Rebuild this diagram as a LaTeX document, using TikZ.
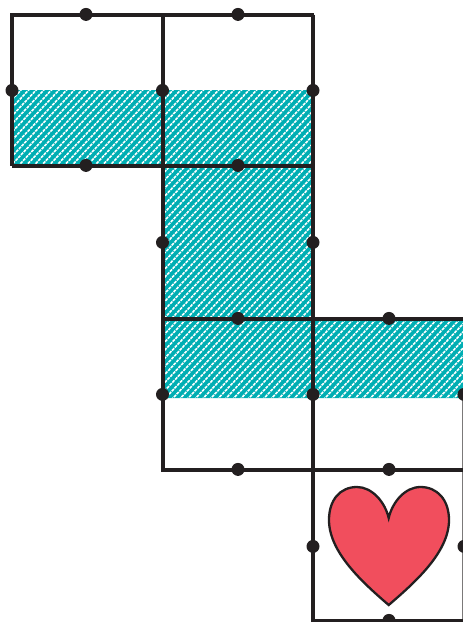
\documentclass[tikz,border=0pt]{standalone}
\definecolor{hatchteal}{RGB}{0,174,179}
\definecolor{inkblack}{RGB}{35,31,32}
\definecolor{heartred}{RGB}{241,78,93}
\tikzset{
  gridline/.style={draw=inkblack,line width=4pt,line cap=square},
  thinline/.style={draw=inkblack!60,line width=1pt},
  dotnode/.style={circle,fill=inkblack,draw=none,inner sep=0pt,minimum size=13pt},
  hatchline/.style={draw=white,line width=1.6pt,dash pattern=on 3pt off 1pt}
}
\begin{document}
\begin{tikzpicture}[x=1pt,y=-1pt]
\useasboundingbox (0,0) rectangle (463,622);
\clip (0,0) rectangle (463,622);
% hatched region
\begin{scope}
  \clip (12,90) -- (313,90) -- (313,318) -- (463,318) -- (463,398) -- (162.5,398) -- (162.5,165) -- (12,165) -- cycle;
  \fill[hatchteal] (0,80) rectangle (463,400);
  \foreach \s in {0,7.6,...,860} {
    \draw[hatchline] (\s-300,400) -- (\s,80);
  }
\end{scope}
% corners
\coordinate (tl) at (12,14.5);
\coordinate (tm) at (162.5,14.5);
\coordinate (tr) at (314,14.5);
\coordinate (tr2) at (313,14.5);
\coordinate (ml) at (12,165.5);
\coordinate (mm) at (162.5,165.5);
\coordinate (mr) at (313,165.5);
\coordinate (nm) at (162.5,318.5);
\coordinate (nr) at (463,318.5);
\coordinate (lm) at (162.5,469.5);
\coordinate (lr) at (463,469.5);
\coordinate (bl) at (313,620.5);
\coordinate (br) at (463,620.5);
\coordinate (rt) at (462.5,394);
\coordinate (rb) at (462.5,620);
% grid
\draw[thinline] (rt) -- (rb);
\draw[gridline] (ml) -- (tl) -- (tr);
\draw[gridline] (tm) -- (lm) -- (lr);
\draw[gridline] (tr2) -- (bl) -- (br);
\draw[gridline] (ml) -- (mr);
\draw[gridline] (nm) -- (nr);
% heart
\draw[fill=heartred,draw=inkblack,line width=2.3pt,line join=miter]
  (388.7,605) .. controls (362,582) and (329,552) .. (329,520)
  .. controls (329,500) and (340,487) .. (357,487)
  .. controls (372,487) and (385,502) .. (388.7,518)
  .. controls (392.4,502) and (405,487) .. (420.5,487)
  .. controls (437.5,487) and (449,500) .. (449,520)
  .. controls (449,552) and (415.5,582) .. (388.7,605) -- cycle;
% dots
\foreach \n/\x/\y in {a/86/14,b/238/14,c/12/90,d/162.5/90,e/313/90,f/86/165,g/238/165,h/162.5/242,i/313/242,j/238/318,k/389/318,l/162.5/394,m/313/394,n/464/394,o/238/469,p/389/469,q/313/546,r/464/546,s/389/620} {
  \node[dotnode] (\n) at (\x,\y+0.4) {};
}
\end{tikzpicture}
\end{document}
